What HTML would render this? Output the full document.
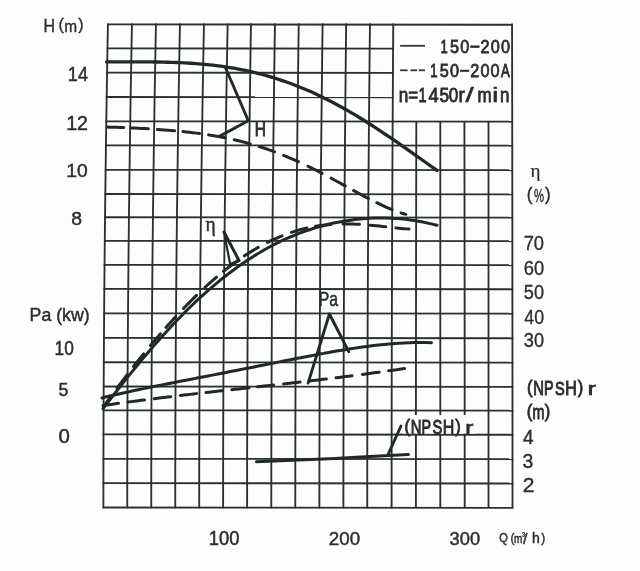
<!DOCTYPE html><html><head><meta charset="utf-8"><style>html,body{margin:0;padding:0;background:#fdfdfd;}svg{display:block;will-change:transform}</style></head><body>
<svg width="640" height="571" viewBox="0 0 640 571">
<rect width="640" height="571" fill="#fdfdfd"/>
<path d="M107.95 23.60 L107.22 63.99 L106.55 104.38 L105.95 144.78 L105.42 185.17 L104.94 225.56 L104.53 265.95 L104.18 306.34 L103.90 346.73 L103.68 387.13 L103.52 427.52 L103.43 467.91 L103.40 508.30" fill="none" stroke="#2a2f2f" stroke-width="1.85" />
<path d="M131.96 23.60 L131.21 63.99 L130.52 104.38 L129.90 144.78 L129.34 185.17 L128.85 225.56 L128.42 265.95 L128.06 306.34 L127.77 346.73 L127.54 387.13 L127.38 427.52 L127.28 467.91 L127.25 508.30" fill="none" stroke="#2a2f2f" stroke-width="1.85" />
<path d="M155.96 23.60 L155.21 63.99 L154.52 104.38 L153.90 144.78 L153.34 185.17 L152.85 225.56 L152.42 265.95 L152.06 306.34 L151.77 346.73 L151.54 387.13 L151.38 427.52 L151.28 467.91 L151.25 508.30" fill="none" stroke="#2a2f2f" stroke-width="1.85" />
<path d="M179.96 23.60 L179.21 63.99 L178.52 104.38 L177.90 144.78 L177.34 185.17 L176.85 225.56 L176.42 265.95 L176.06 306.34 L175.77 346.73 L175.54 387.13 L175.38 427.52 L175.28 467.91 L175.25 508.30" fill="none" stroke="#2a2f2f" stroke-width="1.85" />
<path d="M203.97 23.60 L203.21 63.99 L202.51 104.38 L201.88 144.78 L201.31 185.17 L200.82 225.56 L200.39 265.95 L200.02 306.34 L199.72 346.73 L199.49 387.13 L199.33 427.52 L199.23 467.91 L199.20 508.30" fill="none" stroke="#2a2f2f" stroke-width="1.85" />
<path d="M227.65 23.60 L226.92 63.99 L226.25 104.38 L225.65 144.78 L225.12 185.17 L224.64 225.56 L224.23 265.95 L223.88 306.34 L223.60 346.73 L223.38 387.13 L223.22 427.52 L223.13 467.91 L223.10 508.30" fill="none" stroke="#2a2f2f" stroke-width="1.85" />
<path d="M250.98 23.60 L250.36 63.99 L249.79 104.38 L249.28 144.78 L248.82 185.17 L248.42 225.56 L248.07 265.95 L247.77 306.34 L247.53 346.73 L247.34 387.13 L247.20 427.52 L247.13 467.91 L247.10 508.30" fill="none" stroke="#2a2f2f" stroke-width="1.85" />
<path d="M274.96 23.60 L274.37 63.99 L273.84 104.38 L273.36 144.78 L272.92 185.17 L272.54 225.56 L272.21 265.95 L271.93 306.34 L271.70 346.73 L271.53 387.13 L271.40 427.52 L271.32 467.91 L271.30 508.30" fill="none" stroke="#2a2f2f" stroke-width="1.85" />
<path d="M298.74 23.60 L298.19 63.99 L297.69 104.38 L297.23 144.78 L296.82 185.17 L296.47 225.56 L296.15 265.95 L295.89 306.34 L295.68 346.73 L295.51 387.13 L295.39 427.52 L295.32 467.91 L295.30 508.30" fill="none" stroke="#2a2f2f" stroke-width="1.85" />
<path d="M322.62 23.60 L322.10 63.99 L321.63 104.38 L321.21 144.78 L320.83 185.17 L320.49 225.56 L320.20 265.95 L319.95 306.34 L319.75 346.73 L319.60 387.13 L319.49 427.52 L319.42 467.91 L319.40 508.30" fill="none" stroke="#2a2f2f" stroke-width="1.85" />
<path d="M346.17 23.60 L345.73 63.99 L345.32 104.38 L344.96 144.78 L344.63 185.17 L344.34 225.56 L344.09 265.95 L343.88 306.34 L343.70 346.73 L343.57 387.13 L343.47 427.52 L343.42 467.91 L343.40 508.30" fill="none" stroke="#2a2f2f" stroke-width="1.85" />
<path d="M369.97 23.60 L369.53 63.99 L369.14 104.38 L368.78 144.78 L368.45 185.17 L368.17 225.56 L367.93 265.95 L367.72 306.34 L367.55 346.73 L367.42 387.13 L367.32 427.52 L367.27 467.91 L367.25 508.30" fill="none" stroke="#2a2f2f" stroke-width="1.85" />
<path d="M393.26 23.60 L393.00 63.99 L392.75 104.38 L392.53 144.78 L392.34 185.17 L392.16 225.56 L392.01 265.95 L391.89 306.34 L391.78 346.73 L391.70 387.13 L391.64 427.52 L391.61 467.91 L391.60 508.30" fill="none" stroke="#2a2f2f" stroke-width="1.85" />
<path d="M416.32 121.30 L416.26 153.48 L416.19 185.67 L416.14 217.85 L416.09 250.03 L416.04 282.22 L416.01 314.40 L415.97 346.58 L415.95 378.77 L415.93 410.95 L415.91 443.13 L415.90 475.32 L415.90 507.50" fill="none" stroke="#2a2f2f" stroke-width="1.85" />
<path d="M440.30 121.30 L440.30 153.48 L440.30 185.67 L440.30 217.85 L440.30 250.03 L440.30 282.22 L440.30 314.40 L440.30 346.58 L440.30 378.77 L440.30 410.95 L440.30 443.13 L440.30 475.32 L440.30 507.50" fill="none" stroke="#2a2f2f" stroke-width="1.85" />
<path d="M464.42 121.30 L464.46 153.48 L464.50 185.67 L464.54 217.85 L464.57 250.03 L464.60 282.22 L464.63 314.40 L464.65 346.58 L464.67 378.77 L464.68 410.95 L464.69 443.13 L464.70 475.32 L464.70 507.50" fill="none" stroke="#2a2f2f" stroke-width="1.85" />
<path d="M488.50 121.30 L488.50 153.48 L488.50 185.67 L488.50 217.85 L488.50 250.03 L488.50 282.22 L488.50 314.40 L488.50 346.58 L488.50 378.77 L488.50 410.95 L488.50 443.13 L488.50 475.32 L488.50 507.50" fill="none" stroke="#2a2f2f" stroke-width="1.85" />
<path d="M512.06 23.60 L512.13 63.99 L512.19 104.38 L512.25 144.78 L512.30 185.17 L512.35 225.56 L512.39 265.95 L512.42 306.34 L512.45 346.73 L512.47 387.13 L512.49 427.52 L512.50 467.91 L512.50 508.30" fill="none" stroke="#2a2f2f" stroke-width="1.85" />
<path d="M107.13 24.40 L512.86 24.80" fill="none" stroke="#2a2f2f" stroke-width="1.85" />
<path d="M106.69 48.40 L393.90 48.68" fill="none" stroke="#2a2f2f" stroke-width="1.85" />
<path d="M106.27 72.60 L393.74 72.88" fill="none" stroke="#2a2f2f" stroke-width="1.85" />
<path d="M105.87 97.00 L393.60 97.28" fill="none" stroke="#2a2f2f" stroke-width="1.85" />
<path d="M105.50 121.30 L513.02 121.70" fill="none" stroke="#2a2f2f" stroke-width="1.85" />
<path d="M105.15 145.30 L513.05 145.70" fill="none" stroke="#2a2f2f" stroke-width="1.85" />
<path d="M104.81 169.80 L513.08 170.20" fill="none" stroke="#2a2f2f" stroke-width="1.85" />
<path d="M104.51 194.00 L513.11 194.40" fill="none" stroke="#2a2f2f" stroke-width="1.85" />
<path d="M104.23 217.20 L513.14 217.60" fill="none" stroke="#2a2f2f" stroke-width="1.85" />
<path d="M103.98 240.80 L513.17 241.20" fill="none" stroke="#2a2f2f" stroke-width="1.85" />
<path d="M103.74 264.80 L513.19 265.20" fill="none" stroke="#2a2f2f" stroke-width="1.85" />
<path d="M103.53 288.90 L513.21 289.30" fill="none" stroke="#2a2f2f" stroke-width="1.85" />
<path d="M103.33 313.30 L513.23 313.70" fill="none" stroke="#2a2f2f" stroke-width="1.85" />
<path d="M103.16 337.90 L513.25 338.30" fill="none" stroke="#2a2f2f" stroke-width="1.85" />
<path d="M103.01 362.20 L513.26 362.60" fill="none" stroke="#2a2f2f" stroke-width="1.85" />
<path d="M102.88 386.50 L513.27 386.90" fill="none" stroke="#2a2f2f" stroke-width="1.85" />
<path d="M102.78 410.30 L513.28 410.70" fill="none" stroke="#2a2f2f" stroke-width="1.85" />
<path d="M102.70 434.40 L513.29 434.80" fill="none" stroke="#2a2f2f" stroke-width="1.85" />
<path d="M102.65 458.80 L513.30 459.20" fill="none" stroke="#2a2f2f" stroke-width="1.85" />
<path d="M102.61 483.10 L513.30 483.50" fill="none" stroke="#2a2f2f" stroke-width="1.85" />
<path d="M102.60 507.50 L513.30 507.90" fill="none" stroke="#2a2f2f" stroke-width="1.85" />
<path d="M106.50 61.89 C107.43 61.90 110.23 61.91 112.10 61.91 C113.97 61.92 115.84 61.92 117.70 61.92 C119.57 61.92 121.44 61.92 123.31 61.91 C125.17 61.91 127.04 61.91 128.91 61.91 C130.77 61.90 132.64 61.90 134.51 61.90 C136.38 61.90 138.24 61.90 140.11 61.91 C141.98 61.91 143.84 61.91 145.71 61.92 C147.58 61.93 149.45 61.94 151.31 61.96 C153.18 61.98 155.05 62.00 156.92 62.02 C158.78 62.05 160.65 62.08 162.52 62.11 C164.38 62.15 166.25 62.19 168.12 62.24 C169.99 62.29 171.85 62.35 173.72 62.41 C175.59 62.48 177.45 62.55 179.32 62.63 C181.19 62.71 183.06 62.80 184.92 62.90 C186.79 63.00 188.66 63.11 190.53 63.23 C192.39 63.35 194.26 63.48 196.13 63.62 C197.99 63.76 199.86 63.91 201.73 64.07 C203.60 64.24 205.46 64.41 207.33 64.60 C209.20 64.79 211.06 64.99 212.93 65.21 C214.80 65.43 216.67 65.65 218.53 65.90 C220.40 66.14 222.27 66.40 224.14 66.67 C226.00 66.94 227.87 67.23 229.74 67.53 C231.60 67.83 233.47 68.15 235.34 68.48 C237.21 68.82 239.07 69.17 240.94 69.54 C242.81 69.90 244.68 70.28 246.54 70.69 C248.41 71.09 250.28 71.50 252.14 71.94 C254.01 72.37 255.88 72.83 257.75 73.30 C259.61 73.77 261.48 74.26 263.35 74.76 C265.21 75.27 267.08 75.80 268.95 76.34 C270.82 76.88 272.68 77.45 274.55 78.03 C276.42 78.61 278.29 79.21 280.15 79.83 C282.02 80.45 283.89 81.09 285.75 81.75 C287.62 82.41 289.49 83.09 291.36 83.78 C293.22 84.48 295.09 85.20 296.96 85.93 C298.82 86.67 300.69 87.42 302.56 88.20 C304.43 88.97 306.29 89.77 308.16 90.58 C310.03 91.40 311.90 92.23 313.76 93.08 C315.63 93.93 317.50 94.81 319.36 95.70 C321.23 96.59 323.10 97.49 324.97 98.42 C326.83 99.35 328.70 100.30 330.57 101.26 C332.44 102.23 334.30 103.21 336.17 104.21 C338.04 105.21 339.90 106.23 341.77 107.26 C343.64 108.30 345.51 109.35 347.37 110.42 C349.24 111.49 351.11 112.58 352.97 113.68 C354.84 114.78 356.71 115.90 358.58 117.03 C360.44 118.17 362.31 119.32 364.18 120.48 C366.05 121.64 367.91 122.82 369.78 124.01 C371.65 125.20 373.51 126.40 375.38 127.62 C377.25 128.84 379.12 130.07 380.98 131.31 C382.85 132.54 384.72 133.80 386.58 135.06 C388.45 136.32 390.32 137.59 392.19 138.87 C394.05 140.15 395.92 141.44 397.79 142.73 C399.66 144.03 401.52 145.33 403.39 146.64 C405.26 147.95 407.12 149.26 408.99 150.58 C410.86 151.90 412.73 153.22 414.59 154.54 C416.46 155.87 418.33 157.20 420.19 158.52 C422.06 159.85 423.93 161.18 425.80 162.51 C427.66 163.83 429.53 165.16 431.40 166.48 C433.27 167.80 436.07 169.77 437.00 170.43" fill="none" stroke="#222828" stroke-width="3.3" stroke-linecap="round" stroke-linejoin="round" />
<path d=" M107.00 127.05 L110.35 127.13 L113.70 127.22 L117.05 127.32 L120.40 127.44 L123.75 127.57 M131.00 127.88 L134.48 128.04 L137.96 128.22 L141.44 128.40 L144.92 128.60 L148.40 128.81 M157.40 129.40 L160.84 129.64 L164.28 129.90 L167.72 130.18 L171.16 130.47 L174.60 130.77 M183.00 131.59 L186.32 131.94 L189.64 132.31 L192.96 132.71 L196.28 133.12 L199.60 133.56 M208.60 134.87 L211.93 135.40 L215.26 135.97 L218.59 136.56 L221.92 137.18 L225.25 137.83 M234.25 139.76 L237.45 140.51 L240.65 141.30 L243.85 142.11 L247.05 142.96 L250.25 143.85 M259.25 146.54 L262.32 147.52 L265.39 148.54 L268.46 149.60 L271.53 150.69 L274.60 151.81 M283.60 155.31 L286.56 156.53 L289.52 157.77 L292.48 159.05 L295.44 160.36 L298.40 161.70 M308.00 166.23 L310.82 167.62 L313.64 169.02 L316.46 170.45 L319.28 171.90 L322.10 173.37 M331.10 178.16 L333.93 179.70 L336.76 181.24 L339.59 182.79 L342.42 184.35 L345.25 185.91 M353.60 190.52 L356.56 192.14 L359.52 193.75 L362.48 195.35 L365.44 196.93 L368.40 198.48 M376.75 202.72 L379.82 204.21 L382.89 205.65 L385.96 207.04 L389.03 208.37 L392.10 209.63 M401.10 212.92 L402.03 213.22 L402.96 213.51 L403.89 213.79 L404.82 214.07 L405.75 214.33" fill="none" stroke="#222828" stroke-width="3.0" stroke-linecap="round" stroke-linejoin="round"/>
<path d="M103.00 408.58 C103.94 407.36 106.77 403.68 108.66 401.25 C110.55 398.81 112.44 396.39 114.32 393.97 C116.21 391.56 118.10 389.15 119.98 386.77 C121.87 384.38 123.76 382.00 125.64 379.64 C127.53 377.28 129.42 374.94 131.31 372.61 C133.19 370.28 135.08 367.97 136.97 365.68 C138.85 363.39 140.74 361.12 142.63 358.87 C144.51 356.61 146.40 354.38 148.29 352.17 C150.18 349.96 152.06 347.77 153.95 345.61 C155.84 343.44 157.72 341.30 159.61 339.18 C161.50 337.06 163.38 334.96 165.27 332.89 C167.16 330.82 169.05 328.77 170.93 326.75 C172.82 324.73 174.71 322.74 176.59 320.77 C178.48 318.80 180.37 316.86 182.25 314.95 C184.14 313.03 186.03 311.15 187.92 309.29 C189.80 307.43 191.69 305.60 193.58 303.79 C195.46 301.99 197.35 300.22 199.24 298.47 C201.12 296.72 203.01 295.01 204.90 293.32 C206.79 291.63 208.67 289.97 210.56 288.34 C212.45 286.71 214.33 285.11 216.22 283.54 C218.11 281.97 219.99 280.42 221.88 278.91 C223.77 277.40 225.66 275.92 227.54 274.47 C229.43 273.01 231.32 271.59 233.20 270.20 C235.09 268.80 236.98 267.44 238.86 266.11 C240.75 264.77 242.64 263.47 244.53 262.19 C246.41 260.92 248.30 259.67 250.19 258.46 C252.07 257.24 253.96 256.06 255.85 254.90 C257.73 253.74 259.62 252.61 261.51 251.52 C263.40 250.42 265.28 249.35 267.17 248.31 C269.06 247.27 270.94 246.26 272.83 245.27 C274.72 244.29 276.60 243.33 278.49 242.41 C280.38 241.48 282.27 240.58 284.15 239.71 C286.04 238.84 287.93 238.00 289.81 237.19 C291.70 236.37 293.59 235.58 295.47 234.82 C297.36 234.06 299.25 233.33 301.14 232.63 C303.02 231.92 304.91 231.24 306.80 230.59 C308.68 229.94 310.57 229.31 312.46 228.71 C314.34 228.11 316.23 227.54 318.12 226.99 C320.01 226.45 321.89 225.93 323.78 225.43 C325.67 224.94 327.55 224.47 329.44 224.02 C331.33 223.58 333.21 223.16 335.10 222.76 C336.99 222.37 338.88 222.00 340.76 221.66 C342.65 221.31 344.54 220.99 346.42 220.70 C348.31 220.40 350.20 220.13 352.08 219.89 C353.97 219.64 355.86 219.42 357.75 219.22 C359.63 219.02 361.52 218.85 363.41 218.70 C365.29 218.55 367.18 218.43 369.07 218.33 C370.95 218.23 372.84 218.15 374.73 218.10 C376.62 218.04 378.50 218.01 380.39 218.01 C382.28 218.00 384.16 218.02 386.05 218.07 C387.94 218.11 389.82 218.18 391.71 218.27 C393.60 218.36 395.49 218.48 397.37 218.62 C399.26 218.76 401.15 218.92 403.03 219.11 C404.92 219.30 406.81 219.52 408.69 219.76 C410.58 220.00 412.47 220.26 414.36 220.55 C416.24 220.84 418.13 221.16 420.02 221.50 C421.90 221.85 423.79 222.22 425.68 222.61 C427.56 223.01 429.45 223.43 431.34 223.88 C433.23 224.33 436.06 225.08 437.00 225.32" fill="none" stroke="#222828" stroke-width="3.0" stroke-linecap="round" stroke-linejoin="round" />
<path d=" M103.50 406.72 L105.00 404.62 L106.50 402.53 L108.00 400.45 L109.50 398.38 L111.00 396.32 M117.00 388.17 L119.00 385.49 L121.00 382.83 L123.00 380.18 L125.00 377.55 L127.00 374.93 M133.50 366.55 L135.52 363.99 L137.54 361.44 L139.56 358.90 L141.58 356.39 L143.60 353.89 M150.50 345.50 L152.48 343.13 L154.46 340.78 L156.44 338.45 L158.42 336.13 L160.40 333.84 M166.00 327.44 L167.88 325.32 L169.76 323.23 L171.64 321.15 L173.52 319.09 L175.40 317.04 M183.50 308.44 L186.10 305.76 L188.70 303.11 L191.30 300.49 L193.90 297.91 L196.50 295.37 M205.00 287.34 L207.30 285.24 L209.60 283.17 L211.90 281.13 L214.20 279.12 L216.50 277.15 M223.50 271.35 L226.24 269.16 L228.98 267.03 L231.72 264.94 L234.46 262.90 L237.20 260.91 M244.50 255.86 L247.24 254.06 L249.98 252.31 L252.72 250.62 L255.46 248.97 L258.20 247.38 M267.50 242.38 L270.40 240.94 L273.30 239.57 L276.20 238.26 L279.10 237.01 L282.00 235.82 M291.50 232.33 L294.60 231.33 L297.70 230.40 L300.80 229.54 L303.90 228.74 L307.00 228.01 M315.50 226.33 L318.60 225.84 L321.70 225.40 L324.80 225.03 L327.90 224.71 L331.00 224.45 M343.00 223.94 L346.30 223.93 L349.60 223.97 L352.90 224.06 L356.20 224.19 L359.50 224.37 M370.00 225.15 L373.15 225.44 L376.30 225.75 L379.45 226.08 L382.60 226.42 L385.75 226.76 M396.00 227.88 L398.60 228.15 L401.20 228.41 L403.80 228.65 L406.40 228.87 L409.00 229.07" fill="none" stroke="#222828" stroke-width="3.0" stroke-linecap="round" stroke-linejoin="round"/>
<path d="M102.00 397.94 C102.93 397.71 105.72 397.02 107.58 396.58 C109.45 396.13 111.31 395.69 113.17 395.25 C115.03 394.82 116.89 394.39 118.75 393.97 C120.62 393.55 122.48 393.13 124.34 392.72 C126.20 392.31 128.06 391.90 129.92 391.50 C131.79 391.10 133.65 390.70 135.51 390.30 C137.37 389.91 139.23 389.52 141.09 389.13 C142.95 388.74 144.82 388.36 146.68 387.98 C148.54 387.60 150.40 387.22 152.26 386.84 C154.12 386.47 155.99 386.09 157.85 385.72 C159.71 385.35 161.57 384.98 163.43 384.61 C165.29 384.25 167.16 383.88 169.02 383.51 C170.88 383.15 172.74 382.79 174.60 382.42 C176.46 382.06 178.32 381.70 180.19 381.34 C182.05 380.98 183.91 380.61 185.77 380.25 C187.63 379.89 189.49 379.53 191.36 379.17 C193.22 378.81 195.08 378.45 196.94 378.09 C198.80 377.73 200.66 377.37 202.53 377.01 C204.39 376.65 206.25 376.29 208.11 375.93 C209.97 375.57 211.83 375.21 213.69 374.85 C215.56 374.49 217.42 374.12 219.28 373.76 C221.14 373.40 223.00 373.04 224.86 372.67 C226.73 372.31 228.59 371.94 230.45 371.58 C232.31 371.21 234.17 370.85 236.03 370.48 C237.90 370.11 239.76 369.75 241.62 369.38 C243.48 369.01 245.34 368.64 247.20 368.27 C249.06 367.91 250.93 367.54 252.79 367.17 C254.65 366.80 256.51 366.43 258.37 366.06 C260.23 365.69 262.10 365.32 263.96 364.95 C265.82 364.57 267.68 364.20 269.54 363.83 C271.40 363.46 273.27 363.09 275.13 362.72 C276.99 362.35 278.85 361.98 280.71 361.61 C282.57 361.24 284.44 360.88 286.30 360.51 C288.16 360.14 290.02 359.77 291.88 359.41 C293.74 359.04 295.60 358.68 297.47 358.32 C299.33 357.96 301.19 357.59 303.05 357.24 C304.91 356.88 306.77 356.52 308.64 356.17 C310.50 355.81 312.36 355.46 314.22 355.11 C316.08 354.76 317.94 354.41 319.81 354.07 C321.67 353.73 323.53 353.39 325.39 353.05 C327.25 352.72 329.11 352.38 330.97 352.06 C332.84 351.73 334.70 351.41 336.56 351.09 C338.42 350.77 340.28 350.46 342.14 350.15 C344.01 349.84 345.87 349.54 347.73 349.24 C349.59 348.95 351.45 348.66 353.31 348.37 C355.18 348.09 357.04 347.81 358.90 347.55 C360.76 347.28 362.62 347.02 364.48 346.76 C366.34 346.51 368.21 346.27 370.07 346.03 C371.93 345.79 373.79 345.57 375.65 345.35 C377.51 345.14 379.38 344.93 381.24 344.73 C383.10 344.54 384.96 344.35 386.82 344.18 C388.68 344.00 390.55 343.84 392.41 343.69 C394.27 343.54 396.13 343.40 397.99 343.28 C399.85 343.15 401.71 343.04 403.58 342.95 C405.44 342.85 407.30 342.77 409.16 342.70 C411.02 342.63 412.88 342.58 414.75 342.54 C416.61 342.51 418.47 342.49 420.33 342.48 C422.19 342.48 424.05 342.50 425.92 342.53 C427.78 342.56 430.57 342.66 431.50 342.69" fill="none" stroke="#222828" stroke-width="3.0" stroke-linecap="round" stroke-linejoin="round" />
<path d=" M103.00 405.56 L106.10 405.11 L109.20 404.67 L112.30 404.23 L115.40 403.79 L118.50 403.36 M128.00 402.07 L131.30 401.63 L134.60 401.19 L137.90 400.76 L141.20 400.33 L144.50 399.91 M154.25 398.67 L157.55 398.26 L160.85 397.85 L164.15 397.45 L167.45 397.05 L170.75 396.65 M180.50 395.49 L183.70 395.11 L186.90 394.74 L190.10 394.37 L193.30 394.00 L196.50 393.63 M206.00 392.54 L209.20 392.18 L212.40 391.82 L215.60 391.46 L218.80 391.10 L222.00 390.75 M231.75 389.66 L235.20 389.28 L238.65 388.90 L242.10 388.52 L245.55 388.14 L249.00 387.76 M257.50 386.82 L260.70 386.46 L263.90 386.11 L267.10 385.76 L270.30 385.40 L273.50 385.04 M283.50 383.93 L286.82 383.55 L290.14 383.18 L293.46 382.80 L296.78 382.42 L300.10 382.04 M309.25 380.98 L312.68 380.58 L316.11 380.18 L319.54 379.77 L322.97 379.36 L326.40 378.95 M336.00 377.78 L339.20 377.39 L342.40 376.99 L345.60 376.59 L348.80 376.18 L352.00 375.77 M362.40 374.42 L365.76 373.98 L369.12 373.53 L372.48 373.07 L375.84 372.61 L379.20 372.15 M388.60 370.82 L391.78 370.37 L394.96 369.91 L398.14 369.44 L401.32 368.97 L404.50 368.49" fill="none" stroke="#222828" stroke-width="3.0" stroke-linecap="round" stroke-linejoin="round"/>
<path d="M256.30 461.70 C269.42 461.15 309.65 459.62 335.00 458.40 C360.35 457.18 396.17 455.07 408.40 454.40" fill="none" stroke="#222828" stroke-width="3.0" stroke-linecap="round" stroke-linejoin="round" />
<path d="M225.30 67.30 L248.30 120.80 L219.80 136.10" fill="none" stroke="#222828" stroke-width="2.9" stroke-linecap="round" stroke-linejoin="round"/>
<path d="M230.20 264.40 L224.00 232.00" fill="none" stroke="#222828" stroke-width="2.2" stroke-linecap="round" stroke-linejoin="round"/>
<path d="M224.00 232.00 L239.10 260.70 L230.70 264.40" fill="none" stroke="#222828" stroke-width="3.0" stroke-linecap="round" stroke-linejoin="round"/>
<path d="M308.10 383.10 L329.40 314.00 L348.75 351.60" fill="none" stroke="#222828" stroke-width="2.9" stroke-linecap="round" stroke-linejoin="round"/>
<path d="M387.80 455.00 L401.00 426.00" fill="none" stroke="#222828" stroke-width="2.9" stroke-linecap="round" stroke-linejoin="round"/>
<path d="M400.10 45.80 L425.00 45.80" fill="none" stroke="#303535" stroke-width="1.8" />
<path d="M400.10 70.30 L407.60 70.30" fill="none" stroke="#303535" stroke-width="1.8" />
<path d="M410.40 70.30 L417.10 70.30" fill="none" stroke="#303535" stroke-width="1.8" />
<path d="M418.70 70.30 L425.00 70.30" fill="none" stroke="#303535" stroke-width="1.8" />
<text transform="matrix(0.1811 0 0 0.2036 67.84 80.75)" font-family="Liberation Sans" font-size="100" fill="#2a2e2e" stroke="#2a2e2e" stroke-width="2.34" font-weight="normal" xml:space="preserve">14</text>
<text transform="matrix(0.1959 0 0 0.1957 66.13 129.60)" font-family="Liberation Sans" font-size="100" fill="#2a2e2e" stroke="#2a2e2e" stroke-width="2.30" font-weight="normal" xml:space="preserve">12</text>
<text transform="matrix(0.1930 0 0 0.1923 66.15 177.21)" font-family="Liberation Sans" font-size="100" fill="#2a2e2e" stroke="#2a2e2e" stroke-width="2.34" font-weight="normal" xml:space="preserve">10</text>
<text transform="matrix(0.1936 0 0 0.1915 71.23 225.01)" font-family="Liberation Sans" font-size="100" fill="#2a2e2e" stroke="#2a2e2e" stroke-width="2.34" font-weight="normal" xml:space="preserve">8</text>
<text transform="matrix(0.1772 0 0 0.1899 29.58 321.30)" font-family="Liberation Sans" font-size="100" fill="#2a2e2e" stroke="#2a2e2e" stroke-width="2.45" font-weight="normal" xml:space="preserve">Pa (kw)</text>
<text transform="matrix(0.1730 0 0 0.1972 54.60 355.00)" font-family="Liberation Sans" font-size="100" fill="#2a2e2e" stroke="#2a2e2e" stroke-width="2.43" font-weight="normal" xml:space="preserve">10</text>
<text transform="matrix(0.1768 0 0 0.1800 58.49 395.72)" font-family="Liberation Sans" font-size="100" fill="#2a2e2e" stroke="#2a2e2e" stroke-width="2.52" font-weight="normal" xml:space="preserve">5</text>
<text transform="matrix(0.2042 0 0 0.1972 58.38 443.30)" font-family="Liberation Sans" font-size="100" fill="#2a2e2e" stroke="#2a2e2e" stroke-width="2.24" font-weight="normal" xml:space="preserve">0</text>
<text transform="matrix(0.1834 0 0 0.2014 523.68 250.00)" font-family="Liberation Sans" font-size="100" fill="#2a2e2e" stroke="#2a2e2e" stroke-width="1.56" font-weight="normal" xml:space="preserve">70</text>
<text transform="matrix(0.1834 0 0 0.1986 523.68 274.60)" font-family="Liberation Sans" font-size="100" fill="#2a2e2e" stroke="#2a2e2e" stroke-width="1.57" font-weight="normal" xml:space="preserve">60</text>
<text transform="matrix(0.1816 0 0 0.2014 523.87 298.80)" font-family="Liberation Sans" font-size="100" fill="#2a2e2e" stroke="#2a2e2e" stroke-width="1.57" font-weight="normal" xml:space="preserve">50</text>
<text transform="matrix(0.1782 0 0 0.2085 524.24 323.59)" font-family="Liberation Sans" font-size="100" fill="#2a2e2e" stroke="#2a2e2e" stroke-width="1.55" font-weight="normal" xml:space="preserve">40</text>
<text transform="matrix(0.1816 0 0 0.2014 523.87 347.10)" font-family="Liberation Sans" font-size="100" fill="#2a2e2e" stroke="#2a2e2e" stroke-width="1.57" font-weight="normal" xml:space="preserve">30</text>
<text transform="matrix(0.1836 0 0 0.1972 208.82 544.60)" font-family="Liberation Sans" font-size="100" fill="#2a2e2e" stroke="#2a2e2e" stroke-width="2.36" font-weight="normal" xml:space="preserve">100</text>
<text transform="matrix(0.1873 0 0 0.1908 328.86 544.61)" font-family="Liberation Sans" font-size="100" fill="#2a2e2e" stroke="#2a2e2e" stroke-width="2.38" font-weight="normal" xml:space="preserve">200</text>
<text transform="matrix(0.1830 0 0 0.1845 449.57 545.12)" font-family="Liberation Sans" font-size="100" fill="#2a2e2e" stroke="#2a2e2e" stroke-width="2.45" font-weight="normal" xml:space="preserve">300</text>
<text transform="matrix(0.1579 0 0 0.2014 318.74 306.40)" font-family="Liberation Sans" font-size="100" fill="#2a2e2e" stroke="#2a2e2e" stroke-width="2.50" font-weight="normal" xml:space="preserve">Pa</text>
<text transform="matrix(0.1600 0 0 0.1928 43.49 31.70)" font-family="Liberation Sans" font-size="100" fill="#2a2e2e" stroke="#2a2e2e" stroke-width="1.98">H</text>
<text transform="matrix(0.1600 0 0 0.1722 58.42 30.18)" font-family="Liberation Sans" font-size="100" fill="#2a2e2e" stroke="#2a2e2e" stroke-width="2.11">(</text>
<text transform="matrix(0.1550 0 0 0.1685 64.13 31.70)" font-family="Liberation Sans" font-size="100" fill="#2a2e2e" stroke="#2a2e2e" stroke-width="2.16">m</text>
<text transform="matrix(0.1600 0 0 0.1722 78.20 30.18)" font-family="Liberation Sans" font-size="100" fill="#2a2e2e" stroke="#2a2e2e" stroke-width="2.11">)</text>
<text transform="matrix(0.1900 0 0 0.1854 530.49 177.01)" font-family="Liberation Serif" font-size="100" fill="#2a2e2e" stroke="#2a2e2e" stroke-width="1.33">η</text>
<text transform="matrix(0.1700 0 0 0.1914 526.83 200.18)" font-family="Liberation Sans" font-size="100" fill="#2a2e2e" stroke="#2a2e2e" stroke-width="1.94">(</text>
<text transform="matrix(0.1120 0 0 0.1871 534.02 201.91)" font-family="Liberation Sans" font-size="100" fill="#2a2e2e" stroke="#2a2e2e" stroke-width="2.34">%</text>
<text transform="matrix(0.1700 0 0 0.1914 545.06 200.18)" font-family="Liberation Sans" font-size="100" fill="#2a2e2e" stroke="#2a2e2e" stroke-width="1.94">)</text>
<rect x="403.5" y="415" width="72" height="18.6" fill="#fdfdfd"/>
<text transform="matrix(0.1650 0 0 0.1840 527.02 392.74)" font-family="Liberation Sans" font-size="100" fill="#2a2e2e" stroke="#2a2e2e" stroke-width="4.87">(</text>
<text transform="matrix(0.1480 0 0 0.1949 533.17 394.75)" font-family="Liberation Sans" font-size="100" fill="#2a2e2e" stroke="#2a2e2e" stroke-width="4.96">N</text>
<text transform="matrix(0.1430 0 0 0.1949 544.03 394.75)" font-family="Liberation Sans" font-size="100" fill="#2a2e2e" stroke="#2a2e2e" stroke-width="5.03">P</text>
<text transform="matrix(0.1460 0 0 0.1894 555.05 394.56)" font-family="Liberation Sans" font-size="100" fill="#2a2e2e" stroke="#2a2e2e" stroke-width="5.07">S</text>
<text transform="matrix(0.1600 0 0 0.1949 565.24 394.75)" font-family="Liberation Sans" font-size="100" fill="#2a2e2e" stroke="#2a2e2e" stroke-width="4.79">H</text>
<text transform="matrix(0.1650 0 0 0.1840 577.83 392.74)" font-family="Liberation Sans" font-size="100" fill="#2a2e2e" stroke="#2a2e2e" stroke-width="4.87">)</text>
<text transform="matrix(0.2400 0 0 0.1744 587.64 394.75)" font-family="Liberation Sans" font-size="100" fill="#2a2e2e" stroke="#2a2e2e" stroke-width="4.10">r</text>
<text transform="matrix(0.1650 0 0 0.1877 404.52 431.91)" font-family="Liberation Sans" font-size="100" fill="#2a2e2e" stroke="#2a2e2e" stroke-width="4.82">(</text>
<text transform="matrix(0.1480 0 0 0.2000 410.67 434.00)" font-family="Liberation Sans" font-size="100" fill="#2a2e2e" stroke="#2a2e2e" stroke-width="4.89">N</text>
<text transform="matrix(0.1430 0 0 0.2000 421.53 434.00)" font-family="Liberation Sans" font-size="100" fill="#2a2e2e" stroke="#2a2e2e" stroke-width="4.96">P</text>
<text transform="matrix(0.1460 0 0 0.1944 432.55 433.81)" font-family="Liberation Sans" font-size="100" fill="#2a2e2e" stroke="#2a2e2e" stroke-width="4.99">S</text>
<text transform="matrix(0.1600 0 0 0.2000 442.74 434.00)" font-family="Liberation Sans" font-size="100" fill="#2a2e2e" stroke="#2a2e2e" stroke-width="4.72">H</text>
<text transform="matrix(0.1650 0 0 0.1877 455.33 431.91)" font-family="Liberation Sans" font-size="100" fill="#2a2e2e" stroke="#2a2e2e" stroke-width="4.82">)</text>
<text transform="matrix(0.2400 0 0 0.1789 465.14 434.00)" font-family="Liberation Sans" font-size="100" fill="#2a2e2e" stroke="#2a2e2e" stroke-width="4.06">r</text>
<text transform="matrix(0.1650 0 0 0.1882 526.67 417.05)" font-family="Liberation Sans" font-size="100" fill="#2a2e2e" stroke="#2a2e2e" stroke-width="4.81">(</text>
<text transform="matrix(0.1430 0 0 0.2019 532.48 419.30)" font-family="Liberation Sans" font-size="100" fill="#2a2e2e" stroke="#2a2e2e" stroke-width="4.93">m</text>
<text transform="matrix(0.1650 0 0 0.1882 544.83 417.05)" font-family="Liberation Sans" font-size="100" fill="#2a2e2e" stroke="#2a2e2e" stroke-width="4.81">)</text>
<text transform="matrix(0.1900 0 0 0.2101 523.02 443.80)" font-family="Liberation Sans" font-size="100" fill="#2a2e2e" stroke="#2a2e2e" stroke-width="2.00">4</text>
<text transform="matrix(0.1940 0 0 0.2028 522.52 467.90)" font-family="Liberation Sans" font-size="100" fill="#2a2e2e" stroke="#2a2e2e" stroke-width="2.02">3</text>
<text transform="matrix(0.2100 0 0 0.2000 522.77 492.20)" font-family="Liberation Sans" font-size="100" fill="#2a2e2e" stroke="#2a2e2e" stroke-width="1.95">2</text>
<text transform="matrix(0.1550 0 0 0.1986 254.77 135.60)" font-family="Liberation Sans" font-size="100" fill="#2a2e2e" stroke="#2a2e2e" stroke-width="4.81">H</text>
<text transform="matrix(0.1950 0 0 0.2000 205.52 231.20)" font-family="Liberation Serif" font-size="100" fill="#2a2e2e" stroke="#2a2e2e" stroke-width="2.03">η</text>
<text transform="matrix(0.1100 0 0 0.1326 499.14 542.08)" font-family="Liberation Sans" font-size="100" fill="#2a2e2e" stroke="#2a2e2e" stroke-width="4.12">Q</text>
<text transform="matrix(0.1200 0 0 0.1337 510.49 542.19)" font-family="Liberation Sans" font-size="100" fill="#2a2e2e" stroke="#2a2e2e" stroke-width="3.15">(</text>
<text transform="matrix(0.1000 0 0 0.1296 514.03 543.30)" font-family="Liberation Sans" font-size="100" fill="#2a2e2e" stroke="#2a2e2e" stroke-width="3.92">m</text>
<text transform="matrix(0.0900 0 0 0.1035 521.91 539.80)" font-family="Liberation Sans" font-size="100" fill="#2a2e2e" stroke="#2a2e2e" stroke-width="3.10">³</text>
<text transform="matrix(0.1600 0 0 0.1497 523.06 543.85)" font-family="Liberation Sans" font-size="100" fill="#2a2e2e" stroke="#2a2e2e" stroke-width="2.58">/</text>
<text transform="matrix(0.1400 0 0 0.1476 531.88 543.30)" font-family="Liberation Sans" font-size="100" fill="#2a2e2e" stroke="#2a2e2e" stroke-width="3.48">h</text>
<text transform="matrix(0.1200 0 0 0.1337 541.25 542.19)" font-family="Liberation Sans" font-size="100" fill="#2a2e2e" stroke="#2a2e2e" stroke-width="3.15">)</text>
<text transform="matrix(0.1300 0 0 0.1901 440.50 52.71)" font-family="Liberation Sans" font-size="100" fill="#2a2e2e" stroke="#2a2e2e" stroke-width="4.69">1</text>
<text transform="matrix(0.1625 0 0 0.1901 449.99 52.71)" font-family="Liberation Sans" font-size="100" fill="#2a2e2e" stroke="#2a2e2e" stroke-width="4.25">5</text>
<text transform="matrix(0.1625 0 0 0.1901 460.15 52.71)" font-family="Liberation Sans" font-size="100" fill="#2a2e2e" stroke="#2a2e2e" stroke-width="4.25">0</text>
<text transform="matrix(0.1750 0 0 0.1901 469.78 52.71)" font-family="Liberation Sans" font-size="100" fill="#2a2e2e" stroke="#2a2e2e" stroke-width="4.11">−</text>
<text transform="matrix(0.1625 0 0 0.1901 480.59 52.71)" font-family="Liberation Sans" font-size="100" fill="#2a2e2e" stroke="#2a2e2e" stroke-width="4.25">2</text>
<text transform="matrix(0.1625 0 0 0.1901 490.75 52.71)" font-family="Liberation Sans" font-size="100" fill="#2a2e2e" stroke="#2a2e2e" stroke-width="4.25">0</text>
<text transform="matrix(0.1625 0 0 0.1901 500.95 52.71)" font-family="Liberation Sans" font-size="100" fill="#2a2e2e" stroke="#2a2e2e" stroke-width="4.25">0</text>
<text transform="matrix(0.1300 0 0 0.1894 430.30 77.01)" font-family="Liberation Sans" font-size="100" fill="#2a2e2e" stroke="#2a2e2e" stroke-width="4.70">1</text>
<text transform="matrix(0.1625 0 0 0.1894 439.76 77.01)" font-family="Liberation Sans" font-size="100" fill="#2a2e2e" stroke="#2a2e2e" stroke-width="4.26">5</text>
<text transform="matrix(0.1625 0 0 0.1894 449.89 77.01)" font-family="Liberation Sans" font-size="100" fill="#2a2e2e" stroke="#2a2e2e" stroke-width="4.26">0</text>
<text transform="matrix(0.1750 0 0 0.1894 459.49 77.01)" font-family="Liberation Sans" font-size="100" fill="#2a2e2e" stroke="#2a2e2e" stroke-width="4.12">−</text>
<text transform="matrix(0.1625 0 0 0.1894 470.27 77.01)" font-family="Liberation Sans" font-size="100" fill="#2a2e2e" stroke="#2a2e2e" stroke-width="4.26">2</text>
<text transform="matrix(0.1625 0 0 0.1894 480.40 77.01)" font-family="Liberation Sans" font-size="100" fill="#2a2e2e" stroke="#2a2e2e" stroke-width="4.26">0</text>
<text transform="matrix(0.1625 0 0 0.1894 490.57 77.01)" font-family="Liberation Sans" font-size="100" fill="#2a2e2e" stroke="#2a2e2e" stroke-width="4.26">0</text>
<text transform="matrix(0.1320 0 0 0.1894 500.90 77.01)" font-family="Liberation Sans" font-size="100" fill="#2a2e2e" stroke="#2a2e2e" stroke-width="4.67">A</text>
<text transform="matrix(0.1718 0 0 0.1930 398.68 101.91)" font-family="Liberation Sans" font-size="100" fill="#2a2e2e" stroke="#2a2e2e" stroke-width="4.11">n</text>
<text transform="matrix(0.1691 0 0 0.1930 408.35 101.91)" font-family="Liberation Sans" font-size="100" fill="#2a2e2e" stroke="#2a2e2e" stroke-width="4.14">=</text>
<text transform="matrix(0.1448 0 0 0.1930 418.46 101.91)" font-family="Liberation Sans" font-size="100" fill="#2a2e2e" stroke="#2a2e2e" stroke-width="4.44">1</text>
<text transform="matrix(0.1822 0 0 0.1930 428.44 101.91)" font-family="Liberation Sans" font-size="100" fill="#2a2e2e" stroke="#2a2e2e" stroke-width="4.00">4</text>
<text transform="matrix(0.1726 0 0 0.1930 439.41 101.91)" font-family="Liberation Sans" font-size="100" fill="#2a2e2e" stroke="#2a2e2e" stroke-width="4.10">5</text>
<text transform="matrix(0.1708 0 0 0.1930 448.82 101.91)" font-family="Liberation Sans" font-size="100" fill="#2a2e2e" stroke="#2a2e2e" stroke-width="4.12">0</text>
<text transform="matrix(0.1880 0 0 0.1930 458.43 101.91)" font-family="Liberation Sans" font-size="100" fill="#2a2e2e" stroke="#2a2e2e" stroke-width="3.94">r</text>
<text transform="matrix(0.2929 0 0 0.1930 465.40 101.91)" font-family="Liberation Sans" font-size="100" fill="#2a2e2e" stroke="#2a2e2e" stroke-width="3.09">/</text>
<text transform="matrix(0.1702 0 0 0.1930 477.39 101.91)" font-family="Liberation Sans" font-size="100" fill="#2a2e2e" stroke="#2a2e2e" stroke-width="4.13">m</text>
<text transform="matrix(0.2667 0 0 0.1930 492.37 101.91)" font-family="Liberation Sans" font-size="100" fill="#2a2e2e" stroke="#2a2e2e" stroke-width="3.26">i</text>
<text transform="matrix(0.1694 0 0 0.1930 500.00 101.91)" font-family="Liberation Sans" font-size="100" fill="#2a2e2e" stroke="#2a2e2e" stroke-width="4.14">n</text>
</svg></body></html>
